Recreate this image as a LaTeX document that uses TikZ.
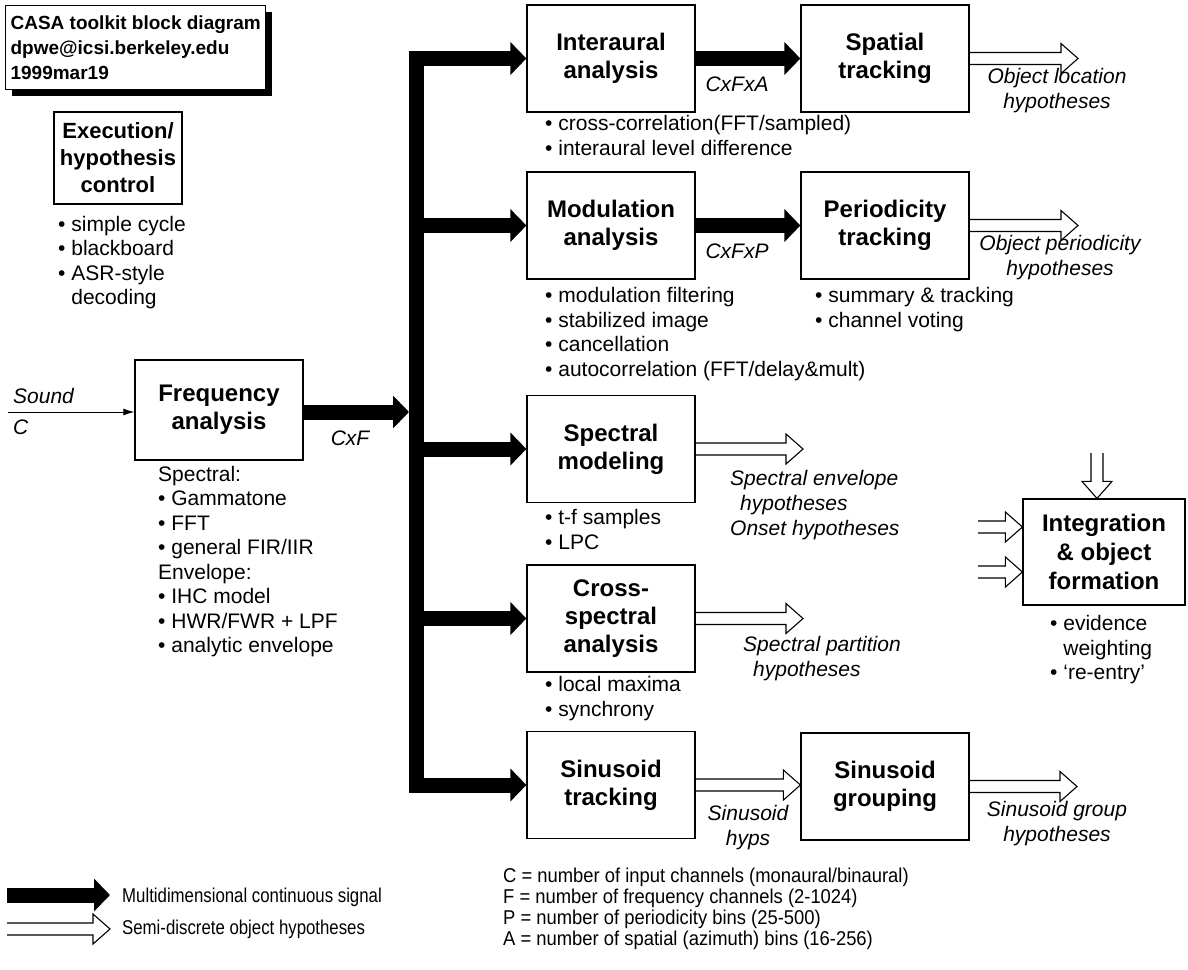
\documentclass[tikz,border=0pt]{standalone}
\usepackage{fontspec}
\setmainfont{Liberation Sans}
\newfontfamily\narrowfont[FakeStretch=0.84]{Liberation Sans}
\newfontfamily\defsfont[FakeStretch=0.92]{Liberation Sans}
\usetikzlibrary{arrows.meta,calc,shadows}
\begin{document}
\begin{tikzpicture}[x=1pt,y=-1pt,
  blk/.style={draw, line width=1.2pt, minimum width=168pt, minimum height=107pt, inner sep=0pt, align=center, font=\fontsize{24}{28}\selectfont\bfseries},
  lst/.style={anchor=north west, inner sep=0pt, align=left, font=\fontsize{21}{24.5}\selectfont, execute at begin node=\strut},
  lbl/.style={anchor=north, inner sep=0pt, align=center, font=\fontsize{21}{25}\selectfont\itshape, execute at begin node=\strut},
  lbll/.style={lbl, anchor=north west, align=left},
  legtxt/.style={anchor=west, inner sep=0pt, font=\fontsize{20}{20}\selectfont\narrowfont},
  deftxt/.style={anchor=north west, inner sep=0pt, align=left, font=\fontsize{20}{21}\selectfont\defsfont, execute at begin node=\strut},
  bigarrow/.style={line width=15pt, line join=miter, -{Triangle[length=16pt,width=32pt]}},
  hollow/.style={line width=1.1pt, line join=miter, to path={let \p1=(\tikztostart), \p2=(\tikztotarget) in
    (\x1,\y1+6pt) -- (\x2-17pt,\y1+6pt) -- (\x2-17pt,\y1+15pt) -- (\x2,\y1) -- (\x2-17pt,\y1-15pt) -- (\x2-17pt,\y1-6pt) -- (\x1,\y1-6pt)}},
  hollowdown/.style={line width=1.1pt, line join=miter, to path={let \p1=(\tikztostart), \p2=(\tikztotarget) in
    (\x1-6pt,\y1) -- (\x1-6pt,\y2+17pt) -- (\x1-15pt,\y2+17pt) -- (\x1,\y2) -- (\x1+15pt,\y2+17pt) -- (\x1+6pt,\y2+17pt) -- (\x1+6pt,\y1)}}
]
\useasboundingbox (0,0) rectangle (1188,969);

% title
\node[draw, line width=1.2pt, fill=white, drop shadow={shadow xshift=6pt, shadow yshift=-6pt, fill=black, opacity=1},
  anchor=north west, minimum height=84pt, inner xsep=5pt, align=left,
  font=\fontsize{19}{25}\selectfont\bfseries] (title) at (5,5)
  {CASA toolkit block diagram\\dpwe@icsi.berkeley.edu\\1999mar19};

% execution control
\node[blk, minimum width=128pt, minimum height=92pt, font=\fontsize{22}{27}\selectfont\bfseries] (exec) at (118,158) {Execution/\\hypothesis\\control};
\node[lst] (execl) at (58,216) {• simple cycle\\• blackboard\\• ASR-style\\\hphantom{• }decoding};

% frequency analysis
\node[blk, minimum height=100pt] (freq) at (219,410) {Frequency\\analysis};
\coordinate (sndin) at (8,412);
\draw[line width=1pt, -{Latex[length=11pt,width=7pt]}] (sndin) -- (sndin -| freq.west);
\node[lbll] (snd) at (13,385.5) {Sound};
\node[lbll] (sndc) at (13,416.5) {C};
\node[lst] (freql) at (158,466) {Spectral:\\• Gammatone\\• FFT\\• general FIR/IIR\\Envelope:\\• IHC model\\• HWR/FWR + LPF\\• analytic envelope};
\coordinate (barin) at (409,412);
\draw[bigarrow] (freq.east |- barin) -- (barin);
\node[lbl] (cxf) at (350,428) {CxF};

% column boxes
\node[blk] (int) at (611,58.5) {Interaural\\analysis};
\node[blk] (spa) at (885,58.5) {Spatial\\tracking};
\node[blk] (mod) at (611,225.5) {Modulation\\analysis};
\node[blk] (per) at (885,225.5) {Periodicity\\tracking};
\node[blk] (spe) at (611,449) {Spectral\\modeling};
\node[blk] (crs) at (611,618.5) {Cross-\\spectral\\analysis};
\node[blk] (sin) at (611,785) {Sinusoid\\tracking};
\node[blk] (sgrp) at (885,786.5) {Sinusoid\\grouping};
\node[blk, minimum width=162pt, minimum height=106pt, font=\fontsize{24}{29}\selectfont\bfseries] (integ) at (1104,552) {Integration\\\& object\\formation};

% trunk
\coordinate (bartop) at (416,58.5);
\coordinate (barbot) at (416,785);
\coordinate (barm) at (416,225.5);
\coordinate (bars) at (416,449);
\coordinate (barc) at (416,618.5);
\draw[bigarrow] (barbot) -- (bartop) -- (int.west);
\draw[bigarrow] (bartop) -- (barbot) -- (sin.west);
\draw[bigarrow] (barm) -- (mod.west);
\draw[bigarrow] (bars) -- (spe.west);
\draw[bigarrow] (barc) -- (crs.west);

% second-stage arrows
\draw[bigarrow] (int.east) -- (spa.west);
\draw[bigarrow] (mod.east) -- (per.west);
\node[lbl] (cxfxa) at (737,73.5) {CxFxA};
\node[lbl] (cxfxp) at (737,240.5) {CxFxP};

% hollow outputs
\coordinate (spaout) at (1078,58.5);
\coordinate (perout) at (1078,225.5);
\coordinate (speout) at (803,449);
\coordinate (crsout) at (803,618.5);
\coordinate (sgrpout) at (1077,786.5);
\draw[hollow] (spa.east) to (spaout);
\draw[hollow] (per.east) to (perout);
\draw[hollow] (spe.east) to (speout);
\draw[hollow] (crs.east) to (crsout);
\draw[hollow] (sin.east) to (sgrp.west);
\draw[hollow] (sgrp.east) to (sgrpout);

\node[lbl] (objloc) at (1057,68.5) {Object location\\hypotheses};
\node[lbl] (objper) at (1060,235.5) {Object periodicity\\hypotheses};
\node[lbll] (spelab) at (730,470.5) {Spectral envelope\\\hspace{10pt}hypotheses\\Onset hypotheses};
\node[lbll] (crslab) at (743,636.5) {Spectral partition\\\hspace{10pt}hypotheses};
\node[lbl] (sinlab) at (748,805.5) {Sinusoid\\hyps};
\node[lbl] (sgrplab) at (1057,801.5) {Sinusoid group\\hypotheses};

% bullet lists
\node[lst] (intl) at (545,115.5) {• cross-correlation(FFT/sampled)\\• interaural level difference};
\node[lst] (modl) at (545,287.5) {• modulation filtering\\• stabilized image\\• cancellation\\• autocorrelation (FFT/delay\&mult)};
\node[lst] (perl) at (815,287.5) {• summary \& tracking\\• channel voting};
\node[lst] (spel) at (545,509.5) {• t-f samples\\• LPC};
\node[lst] (crsl) at (545,676.5) {• local maxima\\• synchrony};
\node[lst] (integl) at (1050,615.5) {• evidence\\\hphantom{• }weighting\\• ‘re-entry’};

% integration inputs
\coordinate (intop) at (1097,453);
\coordinate (inl1) at (978,527);
\coordinate (inl2) at (978,572);
\draw[hollowdown] (intop) to (intop |- integ.north);
\draw[hollow] (inl1) to (inl1 -| integ.west);
\draw[hollow] (inl2) to (inl2 -| integ.west);

% legend
\coordinate (lg1a) at (7,895);
\coordinate (lg1b) at (110,895);
\coordinate (lg2a) at (7,929);
\coordinate (lg2b) at (110,929);
\draw[bigarrow] (lg1a) -- (lg1b);
\draw[hollow] (lg2a) to (lg2b);
\node[legtxt] (legt1) at (122,897) {Multidimensional continuous signal};
\node[legtxt] (legt2) at (122,929) {Semi-discrete object hypotheses};
\node[deftxt] (defs) at (503,868) {C = number of input channels (monaural/binaural)\\F = number of frequency channels (2-1024)\\P = number of periodicity bins (25-500)\\A = number of spatial (azimuth) bins (16-256)};
\end{tikzpicture}
\end{document}
